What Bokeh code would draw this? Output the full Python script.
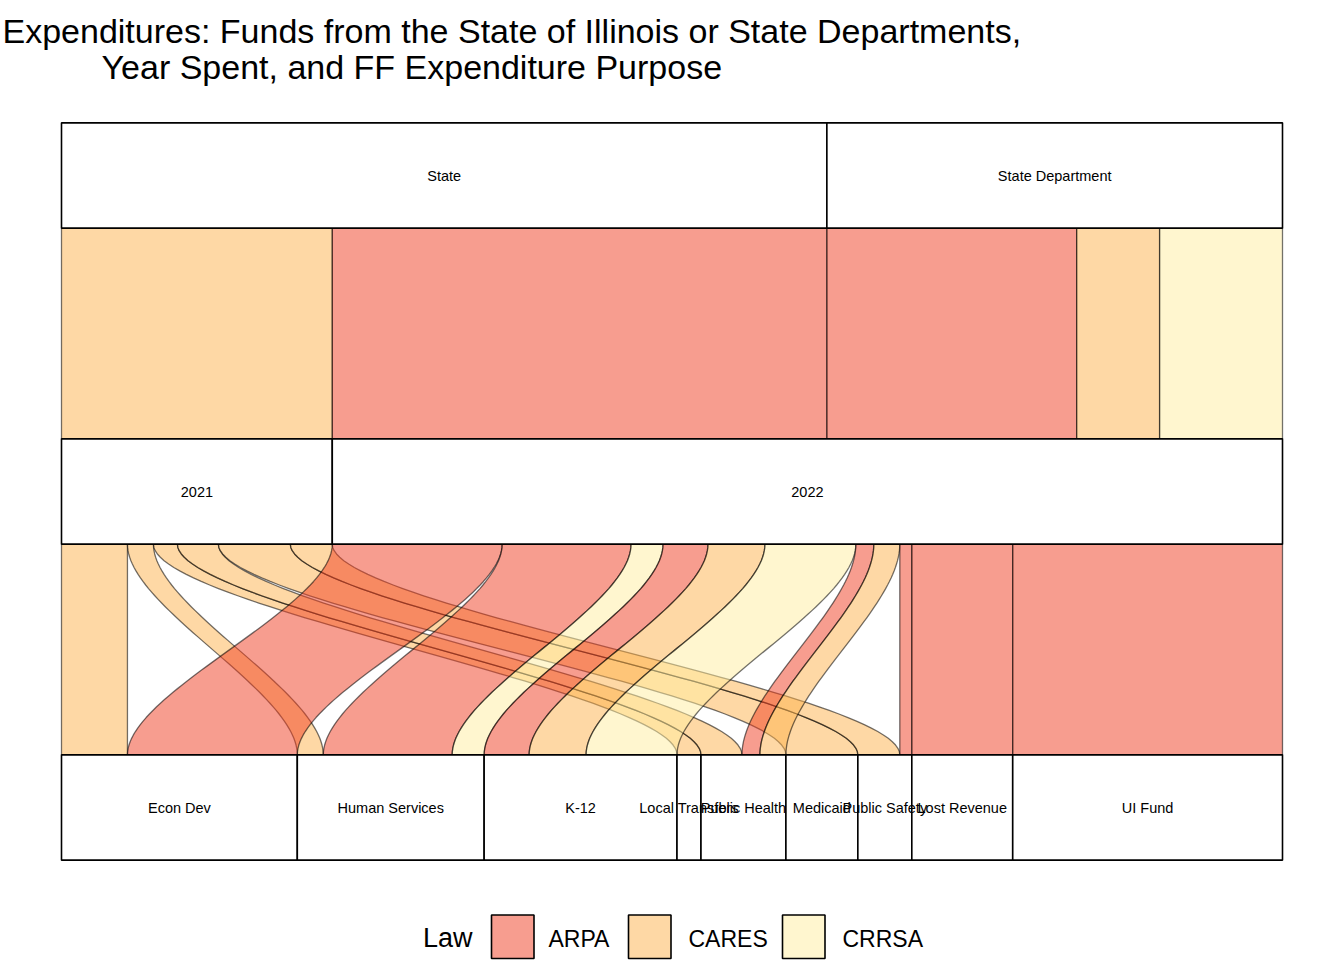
import numpy as np
from bokeh.plotting import figure
from bokeh.models import Range1d
from bokeh.core.properties import value
from bokeh.embed import file_html
from bokeh.resources import INLINE

# ---------------- data ----------------
laws = ["ARPA", "CARES", "CRRSA"]
law_colors = ["#F03B20", "#FEB24C", "#FFEDA0"]
sources = ["State", "State Department"]
years = ["2021", "2022"]
purposes = ["Econ Dev", "Human Services", "K-12", "Local Transfers", "Public Health",
            "Medicaid", "Public Safety", "Lost Revenue", "UI Fund"]

# stage 1: source -> year spent (relative amounts)
s1_source = ["State", "State", "State Department", "State Department", "State Department"]
s1_year = ["2021", "2022", "2022", "2022", "2022"]
s1_law = ["CARES", "ARPA", "ARPA", "CARES", "CRRSA"]
s1_value = [271, 495, 250, 83, 123]

# stage 2: year spent -> expenditure purpose
s2_year = ["2021"] * 6 + ["2022"] * 11
s2_purpose = ["Econ Dev", "Human Services", "Local Transfers", "Public Health", "Medicaid", "Public Safety",
              "Econ Dev", "Human Services", "Human Services", "K-12", "K-12", "K-12",
              "Public Health", "Public Health", "Public Safety", "Lost Revenue", "UI Fund"]
s2_law = ["CARES"] * 6 + ["ARPA", "ARPA", "CRRSA", "ARPA", "CARES", "CRRSA",
                          "ARPA", "CARES", "ARPA", "ARPA", "ARPA"]
s2_value = [66, 26, 24, 41, 72, 42,
            170, 129, 32, 45, 57, 91, 18, 26, 12, 101, 270]

title_lines = ["Expenditures: Funds from the State of Illinois or State Departments,",
               "Year Spent, and FF Expenditure Purpose"]
legend_title = "Law"

# ---------------- layout ----------------
W, H = 1344, 960
OFF = 0
PX0, PX1 = 61, 1282
total = float(sum(s1_value))
k = (PX1 - PX0) / total
def xd(px):
    return (px - PX0) / k
AX0_PX, AX_SP = 175.0, 316.0
def yd(py):
    return 1 + (py - AX0_PX) / AX_SP
HALF = 1.0 / 6.0

p = figure(width=W, height=H, x_range=Range1d(xd(OFF), xd(OFF + W)),
           y_range=Range1d(yd(OFF + H), yd(OFF)), output_backend="svg",
           toolbar_location=None, min_border=0, outline_line_color=None,
           x_axis_location=None, y_axis_location=None)
p.grid.visible = False
p.background_fill_color = "white"
p.border_fill_color = "white"

def totals(keys, vals, names):
    t = {n: 0 for n in names}
    for kk, v in zip(keys, vals):
        t[kk] += v
    return t

def strata_pos(names, tot):
    pos, c = {}, 0.0
    for n in names:
        pos[n] = (c, c + tot[n])
        c += tot[n]
    return pos

def lode_pos(own_keys, other_keys, own_names, other_names, law_keys, vals, pos):
    n = len(vals)
    order = sorted(range(n), key=lambda i: (own_names.index(own_keys[i]),
                                            other_names.index(other_keys[i]),
                                            laws.index(law_keys[i])))
    cur, out = {}, [None] * n
    for i in order:
        s = own_keys[i]
        st = cur.get(s, pos[s][0])
        out[i] = (st, st + vals[i])
        cur[s] = st + vals[i]
    return out

src_pos = strata_pos(sources, totals(s1_source, s1_value, sources))
yr_pos = strata_pos(years, totals(s1_year, s1_value, years))
pur_pos = strata_pos(purposes, totals(s2_purpose, s2_value, purposes))

def curve(x0, x1, y0, y1, n=60):
    t = np.linspace(0, 1, n)
    c = 0.3
    h = y1 - y0
    b0 = (1 - t) ** 3
    b1 = 3 * (1 - t) ** 2 * t
    b2 = 3 * (1 - t) * t ** 2
    b3 = t ** 3
    xs = x0 * (b0 + b1) + x1 * (b2 + b3)
    ys = y0 * b0 + (y0 + c * h) * b1 + (y1 - c * h) * b2 + y1 * b3
    return xs, ys

def add_flows(a_keys, b_keys, a_names, b_names, law_keys, vals, a_pos, b_pos, ya, yb):
    la = lode_pos(a_keys, b_keys, a_names, b_names, law_keys, vals, a_pos)
    lb = lode_pos(b_keys, a_keys, b_names, a_names, law_keys, vals, b_pos)
    xs, ys, fc = [], [], []
    for i in range(len(vals)):
        lx, ly = curve(la[i][0], lb[i][0], ya, yb)
        rx, ry = curve(la[i][1], lb[i][1], ya, yb)
        xs.append(list(lx) + list(rx[::-1]))
        ys.append(list(ly) + list(ry[::-1]))
        fc.append(law_colors[laws.index(law_keys[i])])
    p.patches(xs, ys, fill_color=fc, fill_alpha=0.5, line_color="black",
              line_alpha=0.55, line_width=1.3, line_join="round")

add_flows(s1_source, s1_year, sources, years, s1_law, s1_value, src_pos, yr_pos, 1 + HALF, 2 - HALF)
add_flows(s2_year, s2_purpose, years, purposes, s2_law, s2_value, yr_pos, pur_pos, 2 + HALF, 3 - HALF)

# strata boxes + labels
for ax, (names, pos) in enumerate([(sources, src_pos), (years, yr_pos), (purposes, pur_pos)], start=1):
    left = [pos[n][0] for n in names]
    right = [pos[n][1] for n in names]
    p.quad(left=left, right=right, top=[ax - HALF] * len(names), bottom=[ax + HALF] * len(names),
           fill_color="white", line_color="black", line_width=1.6)
    p.text(x=[(pos[n][0] + pos[n][1]) / 2 for n in names], y=[ax] * len(names), text=names,
           text_align="center", text_baseline="middle", text_color="black",
           text_font=value("Liberation Sans"), text_font_size="14.5px")

# title
p.text(x=[xd(2), xd(101)], y=[yd(30), yd(66)], text=title_lines, text_align="left",
       text_baseline="middle", text_color="black",
       text_font=value("Liberation Sans"), text_font_size="34px")

# legend
p.text(x=[xd(422.5)], y=[yd(937)], text=[legend_title], text_align="left", text_baseline="middle",
       text_color="black", text_font=value("Liberation Sans"), text_font_size="27px")
key_px = [491, 628, 782]
lab_px = [548, 688, 842]
p.quad(left=[xd(v) for v in key_px], right=[xd(v + 42.5) for v in key_px],
       top=[yd(914.5)] * 3, bottom=[yd(958)] * 3, fill_color=law_colors, fill_alpha=0.5,
       line_color="black", line_width=1.6)
p.text(x=[xd(v) for v in lab_px], y=[yd(938)] * 3, text=laws, text_align="left",
       text_baseline="middle", text_color="black",
       text_font=value("Liberation Sans"), text_font_size="23px")

open("out.html", "w").write(file_html(p, INLINE))
